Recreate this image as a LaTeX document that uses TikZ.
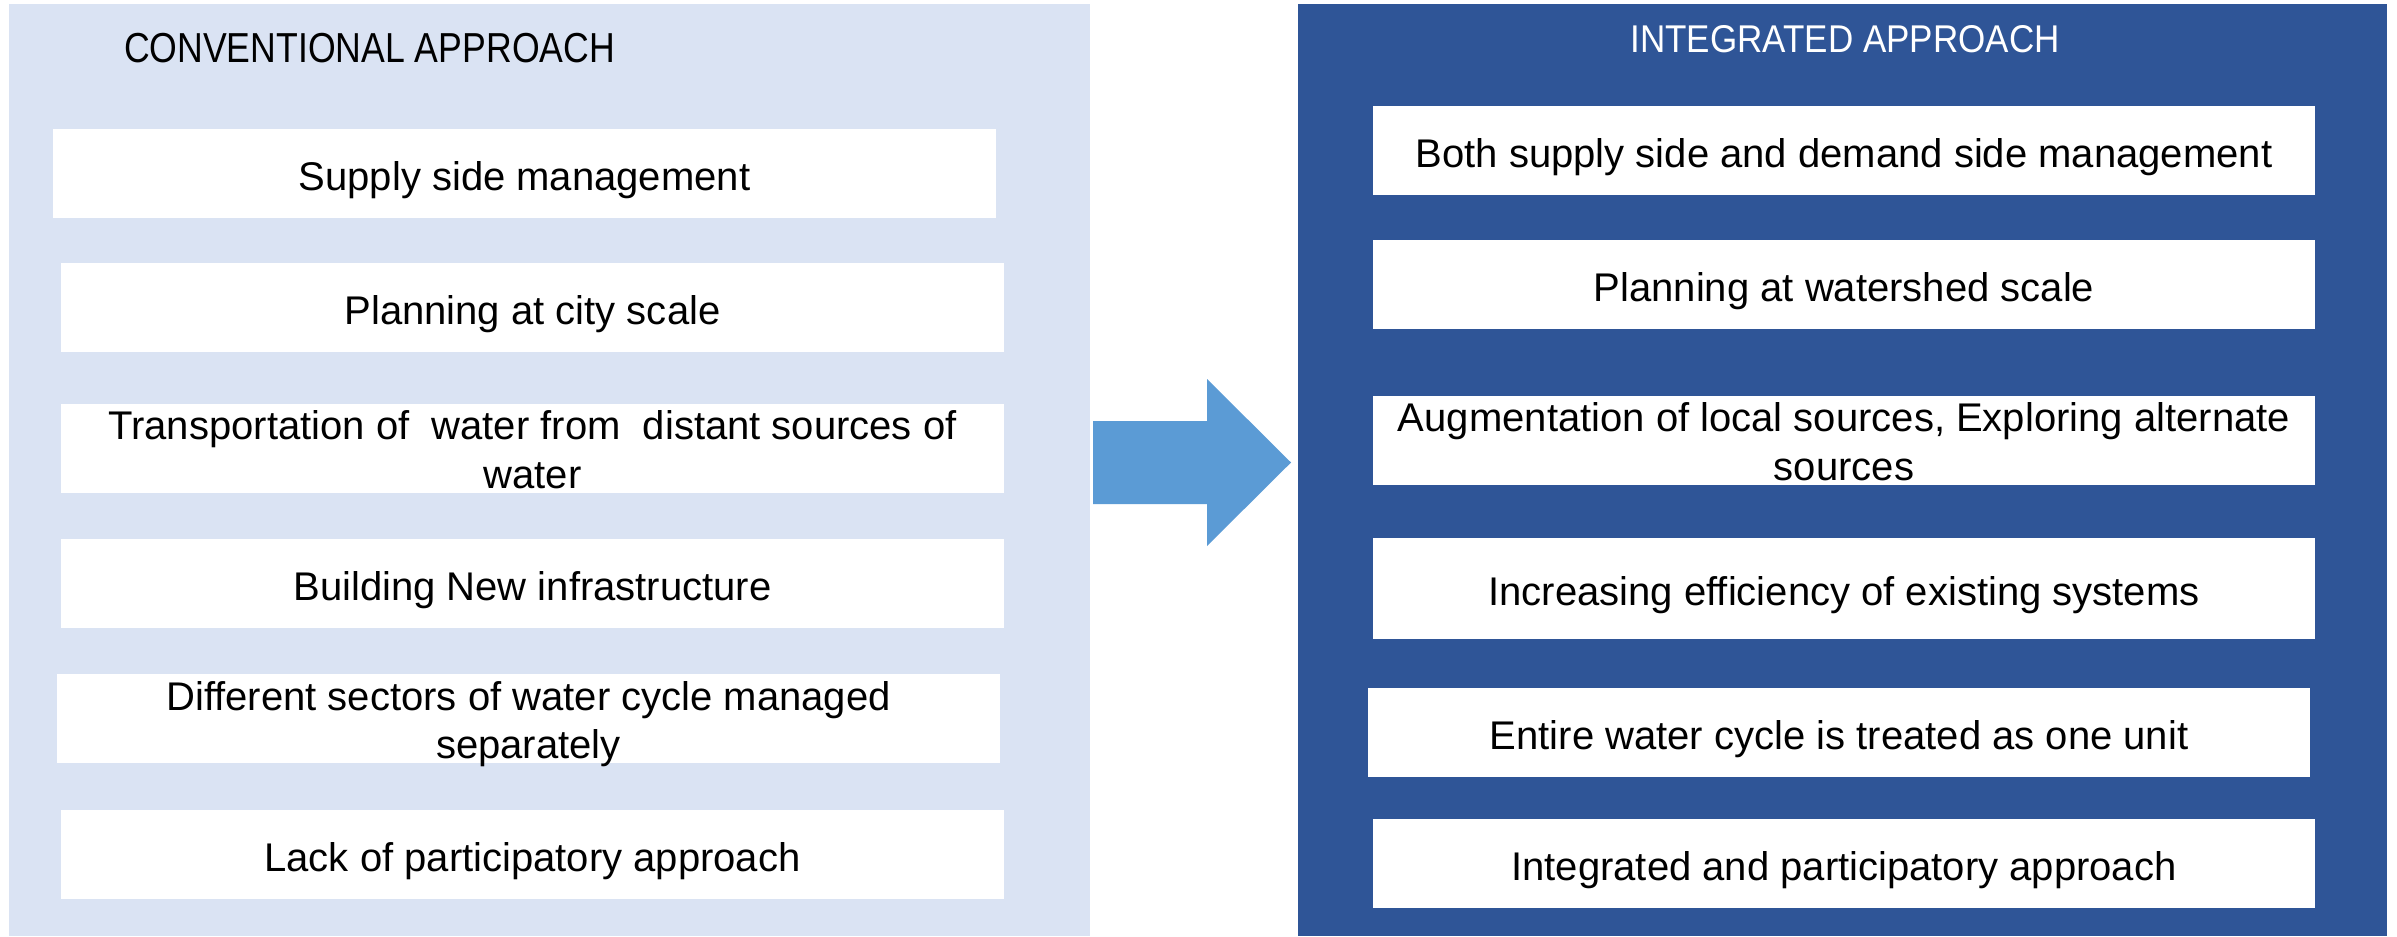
\documentclass[tikz,border=0pt]{standalone}
\usepackage{graphicx}
\usepackage{fontspec}
\setmainfont{Liberation Sans}
\definecolor{paleblue}{HTML}{DAE3F3}
\definecolor{deepblue}{HTML}{2F5597}
\definecolor{arrowblue}{HTML}{5B9BD5}
\begin{document}
\begin{tikzpicture}[x=0.01cm,y=-0.01cm,
  itembox/.style={fill=white, inner sep=0pt, outer sep=0pt,
    minimum width=9.43cm, minimum height=0.89cm, align=center,
    font=\fontsize{11.38pt}{13.66pt}\selectfont},
  oneline/.style={itembox, text height=0.33cm, text depth=0pt},
  twoline/.style={itembox, text height=0.84cm, text depth=0.05cm},
  wide/.style={minimum width=9.42cm},
  heading/.style={inner sep=0pt, outer sep=0pt}
]
\useasboundingbox (0,0) rectangle (2397,936);
\fill[white] (0,0) rectangle (2397,936);

% two column panels
\fill[paleblue] (9,4) rectangle (1090,936);
\fill[deepblue] (1298,4) rectangle (2387,936);

% column headings
\node[heading, anchor=base west, font=\fontsize{11.92pt}{14pt}\selectfont]
  (convtitle) at (124,62) {\scalebox{0.85}[1]{CONVENTIONAL APPROACH}};
\node[heading, anchor=base, text=white, font=\fontsize{11.0pt}{13pt}\selectfont]
  (integtitle) at (1845,52) {\scalebox{0.905}[1]{INTEGRATED APPROACH}};

% conventional approach items
\node[oneline] (c1) at (524.5,173.5) {Supply side management};
\node[oneline] (c2) at (532.5,307.5) {Planning at city scale};
\node[twoline] (c3) at (532.5,448.5) {Transportation of~~water from~~distant sources of\\water};
\node[oneline] (c4) at (532.5,583.5) {Building New infrastructure};
\node[twoline] (c5) at (528.5,718.5) {Different sectors of water cycle managed\\separately};
\node[oneline] (c6) at (532.5,854.5) {Lack of participatory approach};

% integrated approach items
\node[oneline, wide] (i1) at (1844,150.5) {Both supply side and demand side management};
\node[oneline, wide] (i2) at (1844,284.5) {Planning at watershed scale};
\node[twoline, wide] (i3) at (1844,440.5) {Augmentation of local sources, Exploring alternate\\sources};
\node[oneline, wide, minimum height=1.01cm] (i4) at (1844,588.5) {Increasing efficiency of existing systems};
\node[oneline, wide] (i5) at (1839,732.5) {Entire water cycle is treated as one unit};
\node[oneline, wide] (i6) at (1844,863.5) {Integrated and participatory approach};

% block arrow between the panels
\fill[arrowblue] (1093,421) -- (1207,421) -- (1207,379) -- (1291,462.5)
  -- (1207,546) -- (1207,504) -- (1093,504) -- cycle;
\end{tikzpicture}
\end{document}
